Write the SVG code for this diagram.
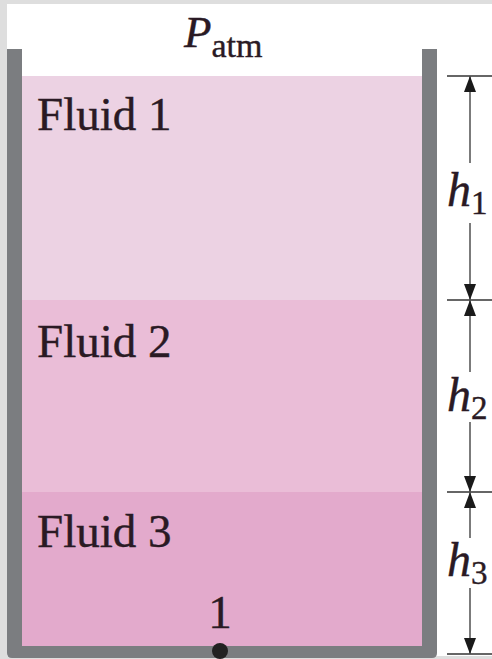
<svg xmlns="http://www.w3.org/2000/svg" width="492" height="659" viewBox="0 0 492 659">
<style>
.lbl{font-family:"Liberation Serif","Times New Roman",serif;fill:#2a1a24;stroke:#2a1a24;stroke-width:0.4;}
.fl{font-size:47px;}
.it{font-style:italic;}
.dim{stroke:#5a5a5a;stroke-width:1.6;fill:none;}
.tick{stroke:#333;stroke-width:1.4;}
</style>
<defs>
<marker id="ah" viewBox="0 0 16 12" refX="16" refY="6" markerWidth="16" markerHeight="12" markerUnits="userSpaceOnUse" orient="auto">
<path d="M0,0 L16,6 L0,12 Z" fill="#1a1a1a"/>
</marker>
</defs>
<rect x="0" y="0" width="492" height="659" fill="#dedede"/>
<rect x="7" y="4" width="485" height="652" fill="#ffffff"/>
<g id="fluid1"><rect x="22" y="76" width="400" height="224" fill="#ecd2e3"/><text class="lbl fl" x="37" y="130">Fluid 1</text></g>
<g id="fluid2"><rect x="22" y="300" width="400" height="192" fill="#eabdd7"/><text class="lbl fl" x="37" y="357">Fluid 2</text></g>
<g id="fluid3"><rect x="22" y="492" width="400" height="155" fill="#e3aacc"/><text class="lbl fl" x="37" y="547">Fluid 3</text></g>
<g id="container"><path d="M7,49 H22 V646 H422 V49 H437 V653 Q437,658 432,658 H12 Q7,658 7,653 Z" fill="#7b7d80"/></g>
<g id="patm"><text class="lbl" x="184" y="47"><tspan class="it" font-size="45">P</tspan><tspan font-size="34" dy="10">atm</tspan></text></g>
<g id="point1"><circle cx="220" cy="651" r="8" fill="#222"/><text class="lbl fl" x="220" y="628" text-anchor="middle">1</text></g>
<g id="connectors">
<line class="tick" x1="447" y1="76" x2="492" y2="76"/>
<line class="tick" x1="447" y1="300" x2="492" y2="300"/>
<line class="tick" x1="447" y1="492" x2="492" y2="492"/>
<line class="tick" x1="447" y1="654" x2="492" y2="654"/>
<line class="dim" x1="470" y1="163" x2="470" y2="76" marker-end="url(#ah)"/>
<line class="dim" x1="470" y1="223" x2="470" y2="300" marker-end="url(#ah)"/>
<line class="dim" x1="470" y1="372" x2="470" y2="300" marker-end="url(#ah)"/>
<line class="dim" x1="470" y1="422" x2="470" y2="492" marker-end="url(#ah)"/>
<line class="dim" x1="470" y1="538" x2="470" y2="492" marker-end="url(#ah)"/>
<line class="dim" x1="470" y1="588" x2="470" y2="654" marker-end="url(#ah)"/>
</g>
<g id="h1"><text class="lbl" x="447" y="206"><tspan class="it" font-size="48">h</tspan><tspan font-size="33" dy="8">1</tspan></text></g>
<g id="h2"><text class="lbl" x="447" y="411"><tspan class="it" font-size="48">h</tspan><tspan font-size="33" dy="8">2</tspan></text></g>
<g id="h3"><text class="lbl" x="447" y="576"><tspan class="it" font-size="48">h</tspan><tspan font-size="33" dy="8">3</tspan></text></g>
</svg>
